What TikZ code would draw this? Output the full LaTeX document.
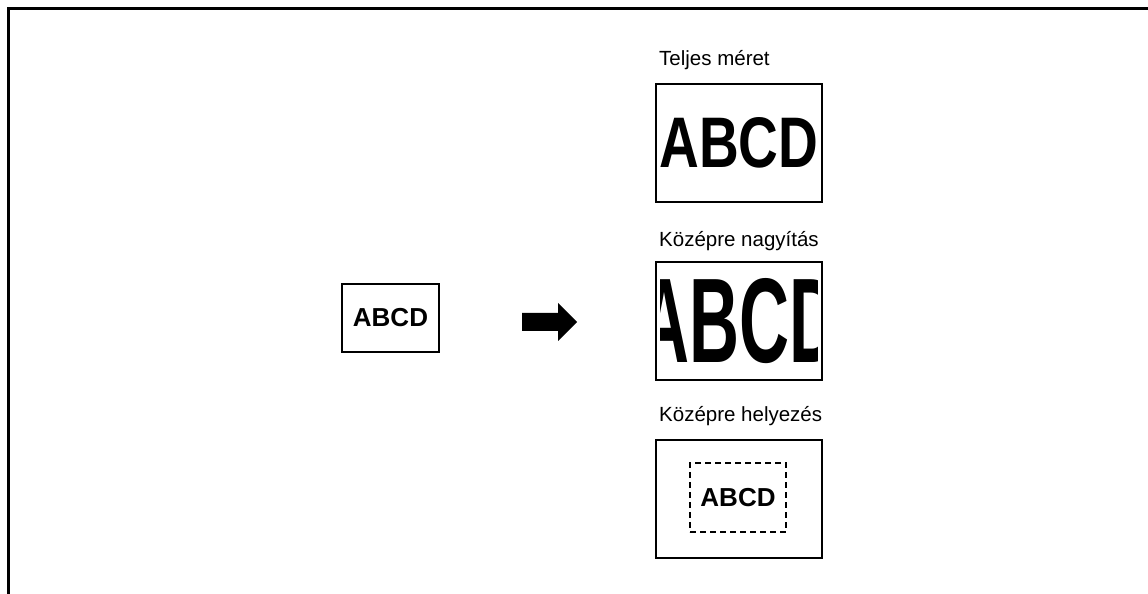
\documentclass[tikz,border=0pt]{standalone}
\usepackage{fontspec}
\setmainfont{Liberation Sans}
\usepackage{graphicx}
\usetikzlibrary{positioning, calc}

\begin{document}
\begin{tikzpicture}[x=1pt, y=1pt,
    sheet/.style={rectangle, draw, line width=1.5pt, outer sep=0pt, inner sep=0pt,
                  minimum width=166pt, minimum height=118pt},
    orig/.style={rectangle, draw, line width=1.5pt, inner sep=0pt,
                 minimum width=97pt, minimum height=68pt,
                 font=\fontsize{26}{30}\selectfont\bfseries},
    guide/.style={rectangle, draw, line width=1.4pt, dash pattern=on 6pt off 4pt,
                  inner sep=0pt, minimum width=96pt, minimum height=69pt,
                  font=\fontsize{26}{30}\selectfont\bfseries},
    lbl/.style={anchor=base west, inner sep=0pt, font=\fontsize{20.5}{24}\selectfont},
    frame/.style={line width=3pt}
]
\useasboundingbox (0,0) rectangle (1148,594);
\draw[frame] (1148,585) -- (8,585) -- (8,0);

% original
\node[orig] (src) at (390.5,276) {ABCD};

% arrow
\coordinate (arr) at (522,272);
\fill (arr) ++(0,9) -- ++(36,0) -- ++(0,10) -- ++(19,-19) -- ++(-19,-19)
      -- ++(0,10) -- ++(-36,0) -- cycle;

% results
\node[sheet] (full) at (739,451) {\resizebox{159pt}{50pt}{\bfseries ABCD}};
\node[sheet] (zoom) at (739,273) {};
\begin{scope}
  \clip ($(zoom.south west)+(4.5,4)$) rectangle ($(zoom.north east)-(4.5,4)$);
  \node (zoomtxt) at ($(zoom.center)+(1,0)$) {\resizebox{200pt}{84pt}{\bfseries ABCD}};
\end{scope}
\node[sheet] (place) at (739,95) {};
\node[guide] (fit) at (738,96.5) {ABCD};

\node[lbl] (lfull)  at ($(full.north west)+(3,18)$)  {Teljes méret};
\node[lbl] (lzoom)  at ($(zoom.north west)+(3,15)$)  {Középre nagyítás};
\node[lbl] (lplace) at ($(place.north west)+(3,18)$) {Középre helyezés};
\end{tikzpicture}
\end{document}
